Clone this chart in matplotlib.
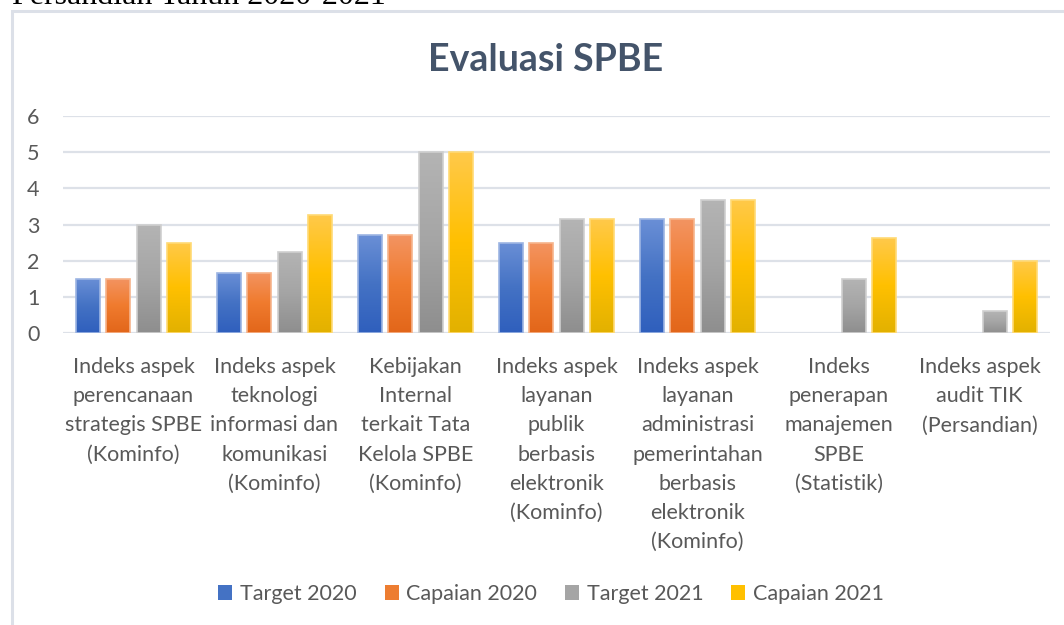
import numpy as np
import matplotlib
matplotlib.use("Agg")
import matplotlib.pyplot as plt
from matplotlib.patches import Patch, Rectangle
from matplotlib.colors import LinearSegmentedColormap
import matplotlib.transforms as mtrans

categories = [
    "Indeks aspek\nperencanaan\nstrategis SPBE\n(Kominfo)",
    "Indeks aspek\nteknologi\ninformasi dan\nkomunikasi\n(Kominfo)",
    "Kebijakan\nInternal\nterkait Tata\nKelola SPBE\n(Kominfo)",
    "Indeks aspek\nlayanan\npublik\nberbasis\nelektronik\n(Kominfo)",
    "Indeks aspek\nlayanan\nadministrasi\npemerintahan\nberbasis\nelektronik\n(Kominfo)",
    "Indeks\npenerapan\nmanajemen\nSPBE\n(Statistik)",
    "Indeks aspek\naudit TIK\n(Persandian)",
]
series_names = ["Target 2020", "Capaian 2020", "Target 2021", "Capaian 2021"]
target_2020 = [1.5, 1.67, 2.7, 2.5, 3.15, np.nan, np.nan]
capaian_2020 = [1.5, 1.67, 2.7, 2.5, 3.15, np.nan, np.nan]
target_2021 = [3.0, 2.24, 5.0, 3.15, 3.68, 1.5, 0.6]
capaian_2021 = [2.5, 3.25, 5.0, 3.15, 3.68, 2.62, 2.0]
yticks = [0, 1, 2, 3, 4, 5, 6]

series = [target_2020, capaian_2020, target_2021, capaian_2021]
solid = ["#4472C4", "#ED7D31", "#A5A5A5", "#FFC000"]
grads = [
    ["#6A8FD6", "#4472C4", "#2F5FBD"],
    ["#F39462", "#F07B2E", "#E2661A"],
    ["#B4B4B4", "#A5A5A5", "#8E8E8E"],
    ["#FFC94A", "#FFC000", "#E2B100"],
]
edges = ["#9DB5E3", "#F6B48C", "#CFCFCF", "#FFDA75"]

W, H = 1064, 625
fig = plt.figure(figsize=(W / 100, H / 100), dpi=100)
fig.patch.set_facecolor("white")

# partially cut header text above the chart (as in the reference)
fig.text(12 / W, 1 - 4 / H, "Persandian Tahun 2020-2021", fontsize=23,
         family="Liberation Serif", color="black", ha="left", va="baseline")

# chart border
fig.patches.append(Rectangle((12 / W, -0.1), 1.2, 1 - 11 / H + 0.1,
                             transform=fig.transFigure, fill=False,
                             edgecolor="#DCE0E8", linewidth=2.2))

font = "Lato"
txtc = "#595959"
fs = 15.5
ax_l, ax_r, ax_t, ax_b = 63, 1050, 116, 333
ax = fig.add_axes([ax_l / W, 1 - ax_b / H, (ax_r - ax_l) / W, (ax_b - ax_t) / H])
ax.set_xlim(-0.5, len(categories) - 0.5)
ax.set_ylim(0, 6)
for s in ax.spines.values():
    s.set_visible(False)
ax.set_yticks(yticks)
ax.set_yticklabels([str(v) for v in yticks], fontsize=fs, color=txtc, family=font)
ax.tick_params(axis="y", length=0, pad=17)
ax.set_xticks([])
for v in yticks:
    ax.axhline(v, color="#DDE1E8", linewidth=1.6, zorder=0)

bw = 0.17
pitch = 0.215
x = np.arange(len(categories))
for si, vals in enumerate(series):
    cmap = LinearSegmentedColormap.from_list("g%d" % si, grads[si][::-1])
    offs = (si - 1.5) * pitch
    for xi, v in zip(x, vals):
        if np.isnan(v):
            continue
        x0 = xi + offs - bw / 2
        rect = Rectangle((x0, 0), bw, v, facecolor="none", edgecolor=edges[si],
                         linewidth=1.2, zorder=3)
        ax.add_patch(rect)
        grad = np.linspace(0, 1, 256).reshape(-1, 1)
        im = ax.imshow(grad, extent=(x0, x0 + bw, 0, v), origin="lower",
                       cmap=cmap, aspect="auto", zorder=2, interpolation="bilinear")
        im.set_clip_path(rect)
ax.set_xlim(-0.5, len(categories) - 0.5)
ax.set_ylim(0, 6)

# category labels
trans = mtrans.blended_transform_factory(ax.transData, fig.transFigure)
for xi, lab in zip(x, categories):
    ax.text(xi, 1 - 357 / H, lab, transform=trans, ha="center", va="top",
            fontsize=fs, color=txtc, family=font, linespacing=1.575)

# title
fig.text(546 / W, 1 - 60 / H, "Evaluasi SPBE", fontsize=27, fontweight="bold",
         color="#44546A", family=font, ha="center", va="center")

handles = [Patch(facecolor=c, edgecolor="none") for c in solid]
fig.legend(handles, series_names, loc="center", bbox_to_anchor=(551 / W, 1 - 594 / H),
           ncol=4, frameon=False, prop={"family": font, "size": fs},
           labelcolor=txtc, handlelength=0.65, handleheight=0.65,
           handletextpad=0.35, columnspacing=1.3)

fig.savefig("out.png", dpi=100, facecolor="white")
